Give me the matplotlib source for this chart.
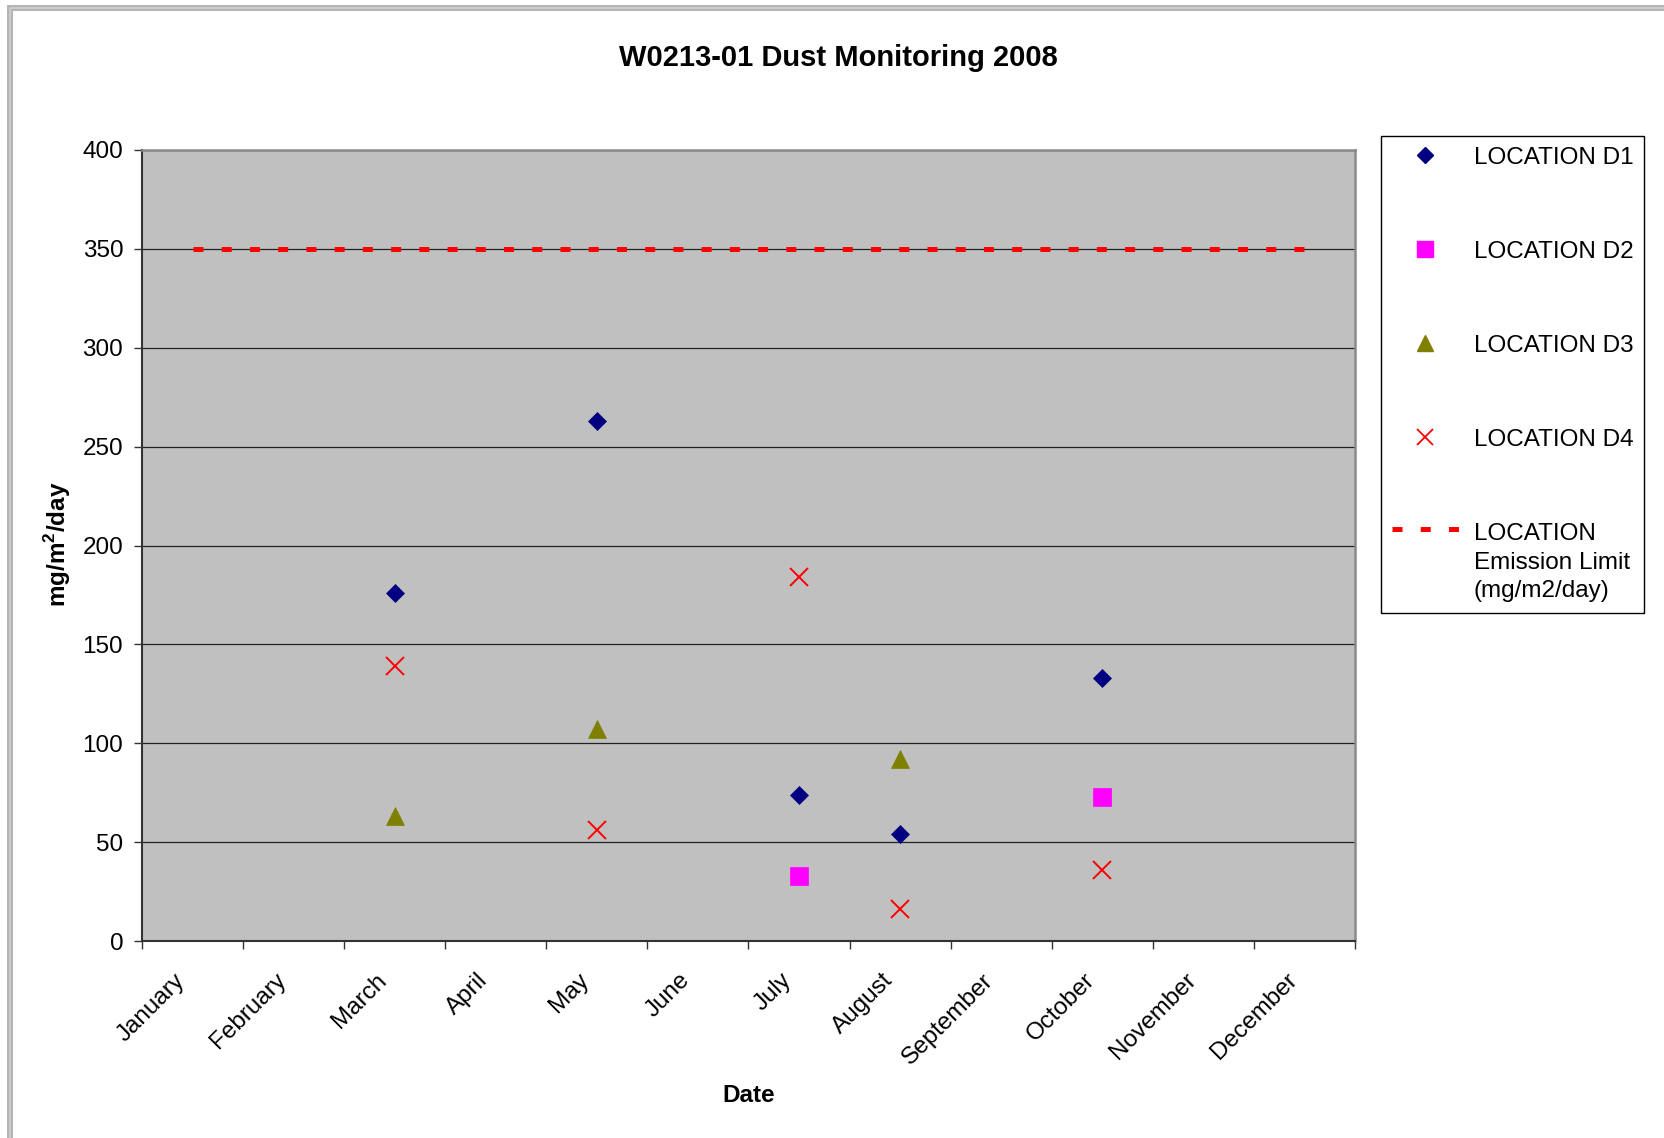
import numpy as np
import matplotlib
matplotlib.use("Agg")
import matplotlib.pyplot as plt
from matplotlib.lines import Line2D
from matplotlib.patches import Rectangle
from matplotlib.legend_handler import HandlerLine2D
from matplotlib.transforms import ScaledTranslation

plt.rcParams['font.family'] = ['Liberation Sans', 'DejaVu Sans']
plt.rcParams['mathtext.fontset'] = 'custom'
plt.rcParams['mathtext.rm'] = 'Liberation Sans'
plt.rcParams['mathtext.bf'] = 'Liberation Sans:bold'

# ---- data ----
months = ['January', 'February', 'March', 'April', 'May', 'June', 'July',
          'August', 'September', 'October', 'November', 'December']
d1_months = ['March', 'May', 'July', 'August', 'October']
d1_values = [176, 263, 74, 54, 133]
d2_months = ['July', 'October']
d2_values = [33, 73]
d3_months = ['March', 'May', 'August']
d3_values = [63, 107, 92]
d4_months = ['March', 'May', 'July', 'August', 'October']
d4_values = [139, 56, 184, 16, 36]
limit_months = months
limit_values = [350] * 12
y_ticks = [0, 50, 100, 150, 200, 250, 300, 350, 400]

W, H = 1665, 1138
fig = plt.figure(figsize=(W / 100, H / 100), dpi=100)
fig.patch.set_facecolor('white')

# Outer chart border (partially visible top/left)
fig.patches.append(Rectangle((10 / W, -0.2), 1.5, 1.2 - 8 / H,
                             transform=fig.transFigure, fill=False,
                             edgecolor='#b4b4b4', linewidth=4.3, zorder=0))
fig.patches.append(Rectangle((10 / W, -0.2), 1.5, 1.2 - 8 / H,
                             transform=fig.transFigure, fill=False,
                             edgecolor='#d0d0d0', linewidth=1.2, zorder=0))

ax = fig.add_axes([142 / W, 1 - 941 / H, 1213 / W, 791 / H])
ax.set_facecolor('#c0c0c0')


def xpos(mlist):
    return [months.index(m) + 0.5 for m in mlist]


fs = 17.5
ax.set_xlim(0, 12)
ax.set_ylim(0, 400)
ax.set_yticks(y_ticks)
ax.set_yticklabels([str(v) for v in y_ticks], fontsize=fs)
ax.yaxis.grid(True, color='#222222', linewidth=0.9)
ax.set_axisbelow(True)

ax.set_xticks(np.arange(0, 13))
ax.set_xticklabels([])
ax.set_xticks(np.arange(12) + 0.5, minor=True)
ax.set_xticklabels(months, minor=True, rotation=45, ha='right', va='center',
                   rotation_mode='anchor', fontsize=fs)
ax.tick_params(axis='x', which='minor', length=0, pad=26)
ax.tick_params(axis='x', which='major', length=6, width=1, direction='out', color='#333333')
ax.tick_params(axis='y', length=5.5, width=1, direction='out', color='#333333', pad=8)
off = ScaledTranslation(-11 / 100, 0, fig.dpi_scale_trans)
for lab in ax.get_xticklabels(minor=True):
    lab.set_transform(lab.get_transform() + off)

for s in ['left', 'bottom']:
    ax.spines[s].set_color('#333333')
    ax.spines[s].set_linewidth(1.5)
for s in ['top', 'right']:
    ax.spines[s].set_color('#8a8a8a')
    ax.spines[s].set_linewidth(1.8)

dash = (0, (2.0, 3.646))
# limit line
limit_line, = ax.plot(xpos(limit_months), limit_values, color='#ff0000', linewidth=3.6,
                      linestyle=dash, dash_capstyle='butt', zorder=3,
                      label='LOCATION\nEmission Limit\n(mg/m2/day)')
h1, = ax.plot(xpos(d1_months), d1_values, linestyle='none', marker='D', markersize=9.6,
              color='#000080', markeredgewidth=0.5, zorder=4, label='LOCATION D1')
h2, = ax.plot(xpos(d2_months), d2_values, linestyle='none', marker='s', markersize=12.5,
              color='#ff00ff', markeredgewidth=0.5, zorder=4, label='LOCATION D2')
h3, = ax.plot(xpos(d3_months), d3_values, linestyle='none', marker='^', markersize=13.5,
              color='#808000', markeredgewidth=0.5, zorder=4, label='LOCATION D3')
h4, = ax.plot(xpos(d4_months), d4_values, linestyle='none', marker='x', markersize=13.5,
              color='#ff0000', markeredgewidth=1.4, zorder=4, label='LOCATION D4')


class UpHandler(HandlerLine2D):
    def __init__(self, shift, **kw):
        super().__init__(**kw)
        self.shift = shift

    def create_artists(self, legend, orig_handle, xdescent, ydescent, width,
                       height, fontsize, trans):
        arts = super().create_artists(legend, orig_handle, xdescent, ydescent,
                                      width, height, fontsize, trans)
        for a in arts:
            a.set_ydata(np.asarray(a.get_ydata(), float) + self.shift)
        return arts


# legend marker sizes slightly smaller than in plot
lh1 = Line2D([], [], linestyle='none', marker='D', markersize=8.5, color='#000080')
lh2 = Line2D([], [], linestyle='none', marker='s', markersize=11.5, color='#ff00ff')
lh3 = Line2D([], [], linestyle='none', marker='^', markersize=12, color='#808000')
lh4 = Line2D([], [], linestyle='none', marker='x', markersize=12, color='#ff0000',
             markeredgewidth=1.3)
lh5 = Line2D([], [], color='#ff0000', linewidth=3.6, linestyle=dash,
             dash_capstyle='butt')

ls_multi = 1.4
leg = ax.legend([lh1, lh2, lh3, lh4, lh5],
                [h1.get_label(), h2.get_label(), h3.get_label(), h4.get_label(),
                 limit_line.get_label()],
                loc='upper left', bbox_to_anchor=(1381 / W, 1 - 136 / H),
                bbox_transform=fig.transFigure, fontsize=fs, frameon=True,
                fancybox=False, framealpha=1, edgecolor='black', borderpad=0.45,
                labelspacing=2.96, handlelength=2.75, handletextpad=0.62,
                borderaxespad=0, numpoints=1,
                handler_map={lh5: UpHandler(shift=ls_multi * fs)})
leg.get_frame().set_linewidth(1.0)
leg.get_texts()[4].set_linespacing(ls_multi)

fig.text(838 / W, 1 - 58 / H, 'W0213-01 Dust Monitoring 2008', ha='center', va='center',
         fontsize=21, fontweight='bold')
fig.text(749 / W, 1 - 1095 / H, 'Date', ha='center', va='center', fontsize=fs,
         fontweight='bold')
fig.text(58 / W, 1 - 544 / H, r'mg/m$^\mathbf{2}$/day', ha='center', va='center',
         rotation=90, fontsize=fs, fontweight='bold')

fig.savefig('out.png', dpi=100)
